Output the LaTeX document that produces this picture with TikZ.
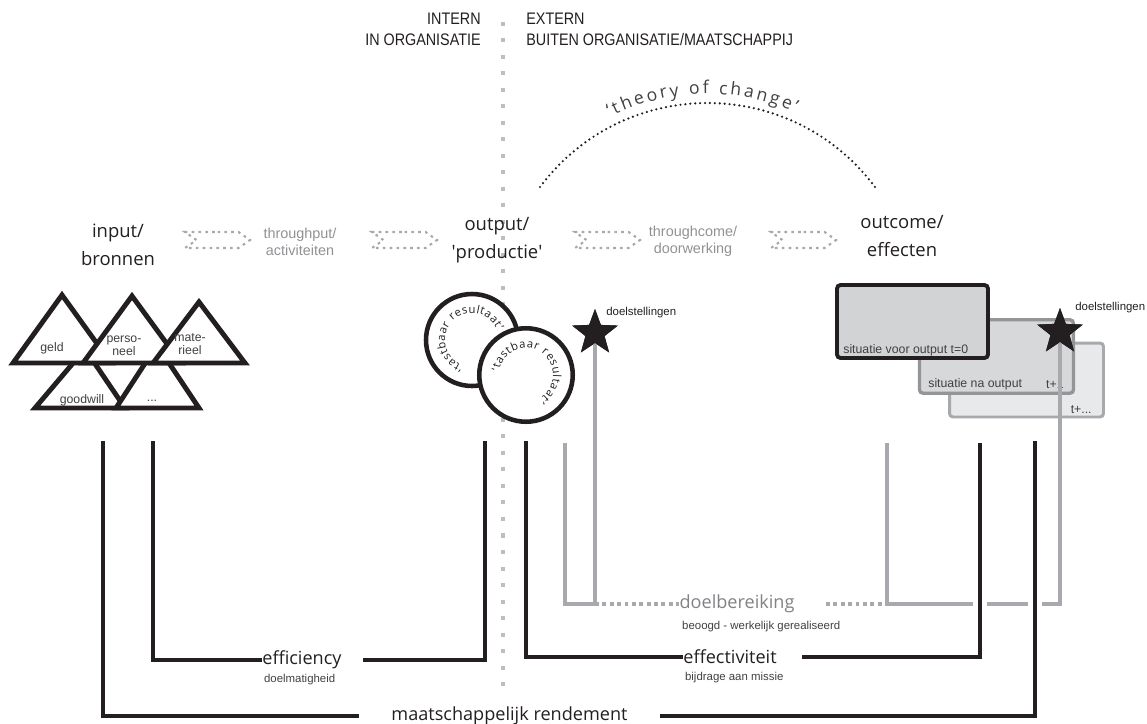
\documentclass[tikz,border=0pt]{standalone}
\usepackage{fontspec}
\usetikzlibrary{positioning,shapes.geometric,shapes.symbols,decorations.text}
\setmainfont{Open Sans}
\newfontfamily\headfont[FakeStretch=0.86]{Liberation Sans}
\newfontfamily\labelfont{Liberation Sans}
\definecolor{ink}{HTML}{231F20}
\definecolor{slate}{HTML}{414042}
\definecolor{midgray}{HTML}{8F9194}
\definecolor{reachgray}{HTML}{808285}
\definecolor{linegray}{HTML}{A7A9AC}
\definecolor{dotgray}{HTML}{BCBEC0}
\definecolor{boxgray}{HTML}{D1D3D4}
\definecolor{boxmid}{HTML}{D7D8DA}
\definecolor{boxlight}{HTML}{E8E9EA}
\definecolor{boxedge}{HTML}{939598}

\begin{document}
\begin{tikzpicture}[x=0.02cm, y=-0.02cm,
    headtext/.style={font=\headfont\fontsize{9.5}{11.9}\selectfont, text=ink, inner sep=0pt},
    stage/.style={font=\fontsize{10.5}{15.6}\selectfont, text=ink, align=center, inner sep=0pt},
    process/.style={font=\labelfont\fontsize{8.2}{9.6}\selectfont, text=midgray, align=center, inner sep=0pt},
    measure/.style={font=\fontsize{10.3}{12}\selectfont, text=ink, inner sep=0pt},
    note/.style={font=\labelfont\fontsize{6.5}{8}\selectfont, text=slate, inner sep=0pt},
    restext/.style={font=\labelfont\fontsize{7}{7.6}\selectfont, text=slate, align=center, inner sep=0pt},
    chevron/.style={signal, signal to=east, signal from=west, signal pointer angle=70,
        draw=linegray, line width=1.2pt, dash pattern=on 1.5pt off 2.4pt,
        minimum width=1.3cm, minimum height=0.32cm, inner sep=0pt},
    resource/.style={draw=ink, fill=white, line width=2.8pt, line join=miter},
    product/.style={circle, draw=ink, fill=white, line width=2.6pt, inner sep=0pt},
    goal/.style={star, star points=5, star point ratio=2.4, fill=ink, inner sep=0pt, minimum size=0.96cm},
    situation/.style={rectangle, rounded corners=2pt, inner sep=0pt, minimum width=3.08cm, minimum height=1.47cm},
    bracket/.style={draw=ink, line width=2.5pt},
    outerbracket/.style={draw=ink, line width=2pt, preaction={draw=white, line width=8.5pt}},
    gbracket/.style={draw=linegray, line width=2pt},
    gdots/.style={draw=linegray, line width=2pt, dash pattern=on 2.2pt off 2pt},
]
\useasboundingbox (0,0) rectangle (1147,724);

% intern / extern divider
\draw[dotgray, line width=2.3pt, dash pattern=on 2.3pt off 7.1pt] (503,21.5) -- (503,686);
\node[headtext, anchor=east, align=right] (intern) at (481,29.5) {INTERN\\IN ORGANISATIE};
\node[headtext, anchor=west, align=left]  (extern) at (526,29.5) {EXTERN\\BUITEN ORGANISATIE/MAATSCHAPPIJ};

% theory of change
\coordinate (tocL) at (540,187);
\coordinate (tocR) at (875,187);
\draw[ink, line width=1.4pt, line cap=round, dash pattern=on 0pt off 2.8pt]
    (tocL) .. controls (624,75) and (791,75) .. (tocR);
\path[decorate, decoration={text along path, text align={fit to path},
    text={|\fontsize{10}{11}\selectfont\color{slate}|`theory of change'}}]
    (610,117) .. controls (668,88) and (736,86) .. (795,112.5);

% stages
\node[stage]   (input)       at (118,245)   {input/\\bronnen};
\node[chevron] (chev1)       at (217.5,240) {};
\node[process] (throughput)  at (300,242)   {throughput/\\activiteiten};
\node[chevron] (chev2)       at (404.5,240) {};
\node[stage]   (output)      at (497,240)   {output/\\\textquotesingle productie\textquotesingle};
\node[chevron] (chev3)       at (607.5,240) {};
\node[process] (throughcome) at (693,241)   {throughcome/\\doorwerking};
\node[chevron] (chev4)       at (803.5,240) {};
\node[stage]   (outcome)     at (902,236)   {outcome/\\effecten};

% resources
\draw[resource] (85,349) -- (35,408) -- (125,408) -- cycle;
\draw[resource] (157,345) -- (116,408) -- (199,408) -- cycle;
\draw[resource] (62,295) -- (13,363) -- (111,363) -- cycle;
\draw[resource] (132,296) -- (83,363) -- (181,363) -- cycle;
\draw[resource] (199,302) -- (153,363) -- (245,363) -- cycle;
\node[restext] (geld)      at (52,348)  {geld};
\node[restext] (personeel) at (124,346) {perso-\\neel};
\node[restext] (materieel) at (190,344) {mate-\\rieel};
\node[restext] (goodwill)  at (82,400)  {goodwill};
\node[restext] (more)      at (152,401) {...};

% products
\node[product, minimum size=1.84cm] (res1) at (472,340) {};
\path[decorate, decoration={text along path, text align={fit to path},
    text={|\fontsize{6.4}{7}\selectfont\color{ink}|`tastbaar resultaat'}}]
    (res1.center) ++(250:0.54cm) arc[start angle=250, end angle=22, radius=0.54cm];
\node[product, minimum size=1.87cm] (res2) at (526,375) {};
\path[decorate, decoration={text along path, text align={fit to path},
    text={|\fontsize{6.4}{7}\selectfont\color{ink}|`tastbaar resultaat'}}]
    (res2.center) ++(172:0.54cm) arc[start angle=172, end angle=-60, radius=0.54cm];

% situations
\node[situation, draw=linegray, line width=1.7pt, fill=boxlight, minimum height=1.48cm] (tlater) at (1026.5,380) {};
\node[situation, draw=boxedge, line width=1.9pt, fill=boxmid] (tone) at (996.5,356.5) {};
\node[situation, draw=ink, line width=2.2pt, fill=boxgray, minimum width=3.02cm, minimum height=1.46cm] (tzero) at (912.5,321.5) {};
\node[restext, anchor=west] (tzerolbl) at (843,350) {situatie voor output t=0};
\node[restext, anchor=west] (tonelbl)  at (928,384) {situatie na output};
\node[restext, anchor=east] (tonet)    at (1064,384) {t+1};
\node[restext, anchor=east] (tlatert)  at (1092,410) {t+...};

% doelbereiking
\node[font=\fontsize{10.3}{12}\selectfont, text=reachgray, inner sep=0pt] (reach) at (737,604) {doelbereiking};
\node[note, below right=4pt and 1.5pt of reach.south west] (beoogd) {beoogd - werkelijk gerealiseerd};
\node[goal] (goal1) at (595,333) {};
\node[goal] (goal2) at (1060,332) {};
\coordinate (outG) at (565,443);
\coordinate (outcomeG) at (887,443);
\coordinate (reachR) at (826,604);
\draw[gbracket] (outG) |- (goal1 |- reach) -- (goal1.center);
\draw[gdots] (goal1 |- reach) -- (reach.west);
\draw[gdots] (reachR) -- (outcomeG |- reach);
\draw[gbracket] (outcomeG) |- (goal2 |- reach) -- (goal2.center);
\node[goal] at (goal1) {};
\node[goal] at (goal2) {};
\node[note, text=ink, anchor=west] (goal1lbl) at (606,313) {doelstellingen};
\node[note, text=ink, anchor=west] (goal2lbl) at (1075,308) {doelstellingen};

% efficiency, effectiviteit, maatschappelijk rendement
\node[measure, anchor=west] (efficiency) at (262,660) {efficiency};
\node[note, below right=2.3pt and 1pt of efficiency.south west] (doelmatig) {doelmatigheid};
\node[measure, anchor=west] (effect) at (683,657) {effectiviteit};
\node[note, below right=4.5pt and 1pt of effect.south west] (missie) {bijdrage aan missie};
\node[measure, inner xsep=0.64cm] (rendement) at (509.5,716) {maatschappelijk rendement};

\coordinate (inL) at (103,441);
\coordinate (effL) at (153,441);
\coordinate (effR) at (485,441);
\coordinate (outB) at (526,441);
\coordinate (outcomeB) at (980,443);
\coordinate (rendR) at (1035,441);
\coordinate (effgap) at (363,660);
\coordinate (effectgap) at (802,657);

\draw[bracket] (effL) |- (efficiency.west);
\draw[bracket] (effR) |- (effgap);
\draw[bracket] (outB) |- (effect.west);
\draw[outerbracket] (outcomeB) |- (effectgap);
\draw[bracket] (inL) |- (rendement.west);
\draw[outerbracket] (rendR) |- (rendement.east);
\end{tikzpicture}
\end{document}
